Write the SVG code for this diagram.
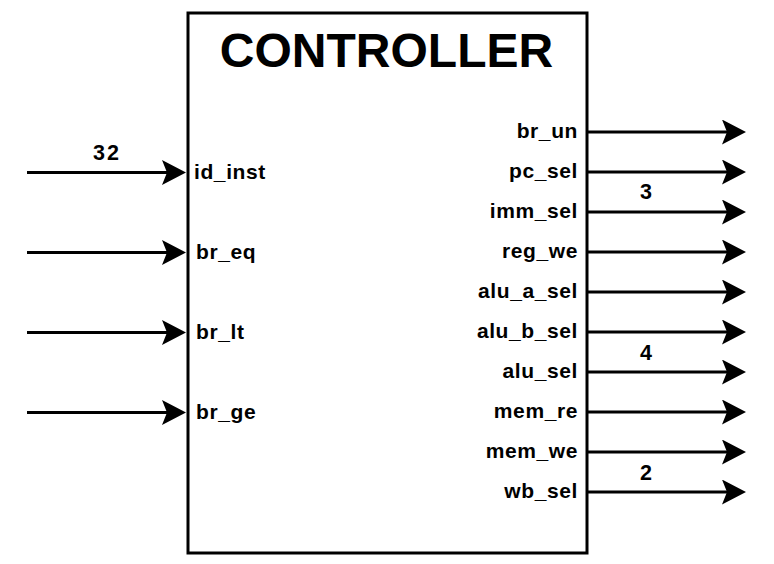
<svg xmlns="http://www.w3.org/2000/svg" width="774" height="564" viewBox="0 0 774 564">
<style>
.t{font-family:"Liberation Sans",Arial,sans-serif;font-weight:bold;fill:#000}
.lbl{font-size:21px;letter-spacing:0.6px}
.r{text-anchor:end}
.bus{font-size:21.5px;text-anchor:middle}
.w{stroke:#000;stroke-width:3;fill:none}
</style>
<defs>
<marker id="ah" viewBox="0 0 24 25" refX="5" refY="12.5" markerWidth="24" markerHeight="25" markerUnits="userSpaceOnUse" orient="auto">
<path d="M0,0 L24,12.5 L0,25 L5,12.5 Z" fill="#000"/>
</marker>
</defs>
<rect width="774" height="564" fill="#fff"/>
<g id="controller">
<rect x="188" y="13" width="399" height="540" fill="#fff" stroke="#000" stroke-width="3"/>
<text class="t" x="386.5" y="67" font-size="48" text-anchor="middle">CONTROLLER</text>
<text class="t lbl" x="194" y="179">id_inst</text>
<text class="t lbl" x="196" y="259">br_eq</text>
<text class="t lbl" x="196" y="339">br_lt</text>
<text class="t lbl" x="196" y="419">br_ge</text>
<text class="t lbl r" x="578" y="138">br_un</text>
<text class="t lbl r" x="578" y="178">pc_sel</text>
<text class="t lbl r" x="578" y="218">imm_sel</text>
<text class="t lbl r" x="578" y="258">reg_we</text>
<text class="t lbl r" x="578" y="298">alu_a_sel</text>
<text class="t lbl r" x="578" y="338">alu_b_sel</text>
<text class="t lbl r" x="578" y="378">alu_sel</text>
<text class="t lbl r" x="578" y="418">mem_re</text>
<text class="t lbl r" x="578" y="458">mem_we</text>
<text class="t lbl r" x="578" y="498">wb_sel</text>
</g>
<g id="connectors">
<line class="w" x1="27" y1="172.5" x2="167" y2="172.5" marker-end="url(#ah)"/>
<line class="w" x1="27" y1="252.5" x2="167" y2="252.5" marker-end="url(#ah)"/>
<line class="w" x1="27" y1="332.5" x2="167" y2="332.5" marker-end="url(#ah)"/>
<line class="w" x1="27" y1="412.5" x2="167" y2="412.5" marker-end="url(#ah)"/>
<line class="w" x1="587" y1="132" x2="727" y2="132" marker-end="url(#ah)"/>
<line class="w" x1="587" y1="172" x2="727" y2="172" marker-end="url(#ah)"/>
<line class="w" x1="587" y1="212" x2="727" y2="212" marker-end="url(#ah)"/>
<line class="w" x1="587" y1="252" x2="727" y2="252" marker-end="url(#ah)"/>
<line class="w" x1="587" y1="292" x2="727" y2="292" marker-end="url(#ah)"/>
<line class="w" x1="587" y1="332" x2="727" y2="332" marker-end="url(#ah)"/>
<line class="w" x1="587" y1="372" x2="727" y2="372" marker-end="url(#ah)"/>
<line class="w" x1="587" y1="412" x2="727" y2="412" marker-end="url(#ah)"/>
<line class="w" x1="587" y1="452" x2="727" y2="452" marker-end="url(#ah)"/>
<line class="w" x1="587" y1="492" x2="727" y2="492" marker-end="url(#ah)"/>
<text class="t bus" x="107" y="160" letter-spacing="2">32</text>
<text class="t bus" x="646" y="199">3</text>
<text class="t bus" x="646" y="360">4</text>
<text class="t bus" x="646" y="480">2</text>
</g>
</svg>
